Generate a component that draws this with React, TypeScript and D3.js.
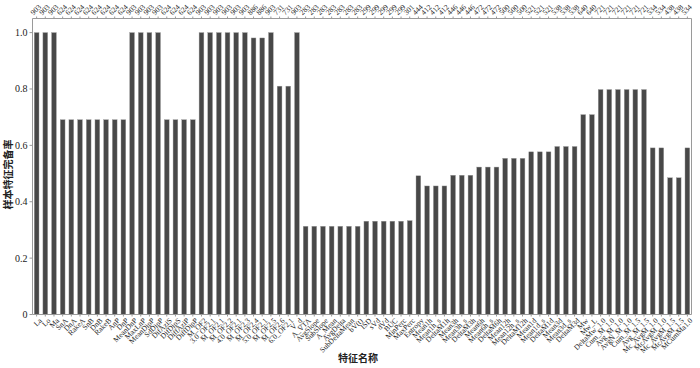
import React from "react";
import * as d3 from "d3";

const featureNames: string[] = [
  "La", "Lo", "Ma", "SnA", "DnA", "RakeA", "SnB", "DnB", "RakeB", "AnP", "DnP",
  "MeanDnP", "MaxLnP", "MeanDipP", "SdDipP",
  "DifAziS", "DifDipS", "DiffAziP", "DiffDipP",
  "M_OF2", "3.0_OF2.1", "M_OF2.1", "M_OF2.2", "4.0_OF2.1", "M_OF2.3", "M_OF2.4",
  "5.0_OF2.1", "M_OF2.5", "M_OF2.6", "6.0_OF2.1", "V_d",
  "A_VTA", "AvgSlope", "SubSlope", "A_Mean", "AvgDelta", "SubDeltaMean", "bV(t)",
  "ISD", "sVd", "dVd", "BUC", "MinPerc", "MaxPerc",
  "Entropy", "Mean1h", "Mean1h_s", "DeltaM1h", "Mean3h", "Mean3h_s", "DeltaM3h",
  "Mean6h", "Mean6h_s", "DeltaM6h", "Mean12h", "Mean12h_s", "DeltaM12h",
  "Mean1d", "Mean1d_s", "DeltaM1d", "Mean3d", "Mean3d_s", "DeltaM3d",
  "Mw", "Mw_L", "DeltaMw_1.0", "Cum_M_1.0", "Avg_M_1.0", "AvgN_M_1.0",
  "Cum_M_1.5", "Avg_M_1.5", "Mc_AvgM_1.0", "McAvgM_1.0", "Mc_AvgM_1.5",
  "McAvgM_1.5", "MCumMa1.0",
];

const sampleCounts: number[] = [
  903, 903, 903, 624, 624, 624, 624, 624, 624, 624, 624, 903, 903, 903, 903,
  624, 624, 624, 624, 903, 903, 903, 903, 903, 903, 886, 886, 903, 731, 731, 903,
  283, 283, 283, 283, 283, 283, 283, 299, 299, 299, 299, 299, 301,
  444, 412, 412, 412, 446, 446, 446, 472, 472, 472, 500, 500, 500,
  521, 521, 521, 538, 538, 538, 640, 640, 721, 721, 721, 721, 721, 721,
  534, 534, 438, 438, 534,
];

const completeness: number[] = [
  1.0, 1.0, 1.0, 0.691, 0.691, 0.691, 0.691, 0.691, 0.691, 0.691, 0.691, 1.0, 1.0, 1.0, 1.0,
  0.691, 0.691, 0.691, 0.691, 1.0, 1.0, 1.0, 1.0, 1.0, 1.0, 0.981, 0.981, 1.0, 0.81, 0.81, 1.0,
  0.313, 0.313, 0.313, 0.313, 0.313, 0.313, 0.313, 0.331, 0.331, 0.331, 0.331, 0.331, 0.333,
  0.492, 0.456, 0.456, 0.456, 0.494, 0.494, 0.494, 0.523, 0.523, 0.523, 0.554, 0.554, 0.554,
  0.577, 0.577, 0.577, 0.596, 0.596, 0.596, 0.709, 0.709, 0.798, 0.798, 0.798, 0.798, 0.798, 0.798,
  0.591, 0.591, 0.485, 0.485, 0.591,
];

const yTicks: number[] = [0, 0.2, 0.4, 0.6, 0.8, 1.0];
const yTickLabels: string[] = ["0", "0.2", "0.4", "0.6", "0.8", "1.0"];

const W = 700;
const H = 368;
const left = 32.5;
const right = 691.5;
const top = 18.5;
const bottom = 314.5;
const serif = "'Liberation Serif', 'Times New Roman', serif";
const cjk = "'Noto Sans CJK SC', sans-serif";

export default function App() {
  const idx = featureNames.map((_, i) => String(i));
  const x = d3.scaleBand<string>().domain(idx).range([left, right]).paddingInner(0.45).paddingOuter(0.2);
  const y = d3.scaleLinear().domain([0, 1.05]).range([bottom, top]);

  return (
    <svg width={W} height={H} style={{ position: "absolute", left: 0, top: 0, background: "#fff" }}>
      {completeness.map((v, i) => (
        <rect
          key={i}
          x={x(String(i))!}
          y={y(v)}
          width={x.bandwidth()}
          height={y(0) - y(v)}
          fill="#484848"
          stroke="#a0a0a0"
          strokeWidth={0.4}
        />
      ))}
      <line x1={left} x2={right} y1={top} y2={top} stroke="#9a9a9a" />
      <line x1={right} x2={right} y1={top} y2={bottom} stroke="#9a9a9a" />
      <line x1={left} x2={left} y1={top} y2={bottom} stroke="#9a9a9a" />
      <line x1={left} x2={right} y1={bottom} y2={bottom} stroke="#9a9a9a" />
      {yTicks.map((t, i) => (
        <g key={i}>
          <line x1={left - 3} x2={left} y1={y(t)} y2={y(t)} stroke="#9a9a9a" />
          <text
            x={left - 5}
            y={y(t)}
            dy="0.35em"
            textAnchor="end"
            fontFamily={serif}
            fontSize={10}
            fill="#222"
          >
            {yTickLabels[i]}
          </text>
        </g>
      ))}
      {sampleCounts.map((c, i) => {
        const cx = x(String(i))! + x.bandwidth() / 2;
        return (
          <g key={i}>
            <line x1={cx} x2={cx} y1={top - 2} y2={top} stroke="#9a9a9a" />
            <text
              transform={`translate(${cx - 3},${top - 3}) rotate(-45)`}
              textAnchor="start"
              fontFamily={serif}
              fontSize={7.5}
              fill="#222"
            >
              {c}
            </text>
          </g>
        );
      })}
      {featureNames.map((n, i) => {
        const cx = x(String(i))! + x.bandwidth() / 2;
        return (
          <g key={i}>
            <line x1={cx} x2={cx} y1={bottom} y2={bottom + 2} stroke="#9a9a9a" />
            <text
              transform={`translate(${cx + 3},${bottom + 4}) rotate(-45)`}
              textAnchor="end"
              dy="0.5em"
              fontFamily={serif}
              fontSize={7.5}
              fill="#222"
            >
              {n}
            </text>
          </g>
        );
      })}
      <text x={358} y={362} textAnchor="middle" fontFamily={cjk} fontSize={10} fontWeight={700} fill="#222">
        特征名称
      </text>
      <text
        transform={`translate(12,${(top + bottom) / 2 + 8}) rotate(-90)`}
        textAnchor="middle"
        fontFamily={cjk}
        fontSize={10}
        fontWeight={700}
        fill="#222"
      >
        样本特征完备率
      </text>
    </svg>
  );
}
